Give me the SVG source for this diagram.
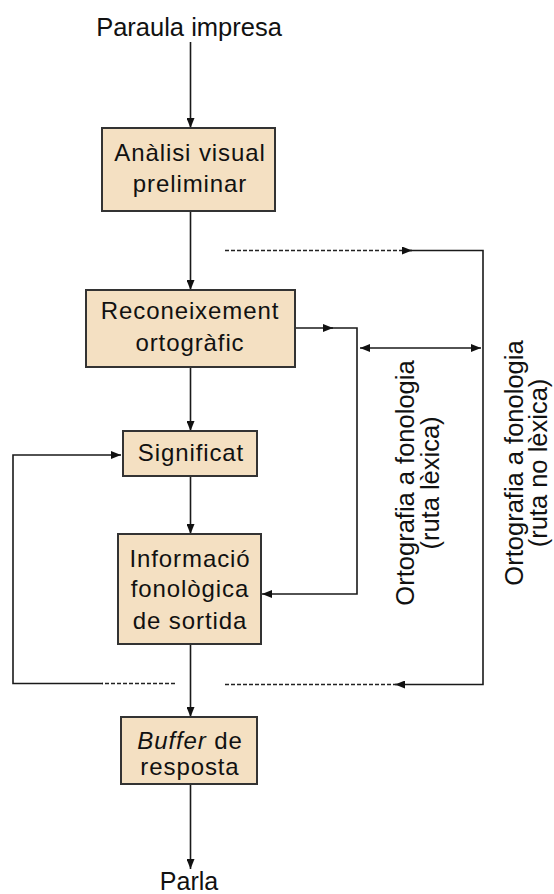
<svg xmlns="http://www.w3.org/2000/svg" width="554" height="894" viewBox="0 0 554 894">
<style>
.box{fill:#F4E0C2;stroke:#333;stroke-width:2}
.bt{font-family:"Liberation Sans",Arial,sans-serif;font-size:24px;letter-spacing:0.9px;fill:#111;text-anchor:middle}
.lt{font-family:"Liberation Sans",Arial,sans-serif;font-size:25.5px;fill:#111;text-anchor:middle}
.ln{fill:none;stroke:#1a1a1a;stroke-width:1.6}
.da{fill:none;stroke:#222;stroke-width:1.5;stroke-dasharray:4 2}
</style>
<defs>
<marker id="ah" markerUnits="userSpaceOnUse" markerWidth="10" markerHeight="8" refX="10" refY="4" orient="auto-start-reverse" viewBox="0 0 10 8">
<path d="M0,0 L10,4 L0,8 z" fill="#111"/>
</marker>
</defs>
<rect width="554" height="894" fill="#fff"/>
<text id="t-top" class="lt" x="189" y="36">Paraula impresa</text>
<text id="t-bottom" class="lt" x="189" y="890" style="font-size:25px">Parla</text>
<g id="connectors">
<path class="ln" d="M190.5 42 V128" marker-end="url(#ah)"/>
<path class="ln" d="M190.5 211 V290" marker-end="url(#ah)"/>
<path class="ln" d="M190.5 367 V431" marker-end="url(#ah)"/>
<path class="ln" d="M190.5 476 V534" marker-end="url(#ah)"/>
<path class="ln" d="M190.5 644 V717" marker-end="url(#ah)"/>
<path class="ln" d="M190.5 784 V869" marker-end="url(#ah)"/>
<path class="ln" d="M295 328 H333" marker-end="url(#ah)"/>
<path class="ln" d="M330 328 H357 V594 H262" marker-end="url(#ah)"/>
<path class="ln" d="M360 348 H481" marker-start="url(#ah)" marker-end="url(#ah)"/>
<path class="da" d="M225 250.5 H404"/>
<path class="ln" d="M402 250.5 H412" marker-end="url(#ah)"/>
<path class="ln" d="M410 250.5 H483 V684.5 H395" marker-end="url(#ah)"/>
<path class="da" d="M225 684.5 H397"/>
<path class="da" d="M175 683.5 H102"/>
<path class="ln" d="M103 683.5 H13 V455 H121" marker-end="url(#ah)"/>
</g>
<g id="n-analisi">
<rect class="box" x="102" y="128" width="173" height="83"/>
<text class="bt" x="190" y="161">Anàlisi visual</text>
<text class="bt" x="190" y="192">preliminar</text>
</g>
<g id="n-reconeixement">
<rect class="box" x="86" y="290" width="209" height="77"/>
<text class="bt" x="190" y="319">Reconeixement</text>
<text class="bt" x="190" y="351">ortogràfic</text>
</g>
<g id="n-significat">
<rect class="box" x="123" y="431" width="134" height="45"/>
<text class="bt" x="191" y="461">Significat</text>
</g>
<g id="n-informacio">
<rect class="box" x="118" y="534" width="143" height="110"/>
<text class="bt" x="190" y="567">Informació</text>
<text class="bt" x="190" y="597">fonològica</text>
<text class="bt" x="190" y="629">de sortida</text>
</g>
<g id="n-buffer">
<rect class="box" x="121" y="717" width="136" height="67"/>
<text class="bt" x="190" y="749"><tspan font-style="italic">Buffer</tspan> de</text>
<text class="bt" x="190" y="775">resposta</text>
</g>
<g id="l-lexica">
<text class="lt" transform="translate(414,483) rotate(-90)">Ortografia a fonologia</text>
<text class="lt" transform="translate(439,483) rotate(-90)">(ruta lèxica)</text>
</g>
<g id="l-nolexica">
<text class="lt" transform="translate(523,463) rotate(-90)">Ortografia a fonologia</text>
<text class="lt" transform="translate(547,463) rotate(-90)">(ruta no lèxica)</text>
</g>
</svg>
